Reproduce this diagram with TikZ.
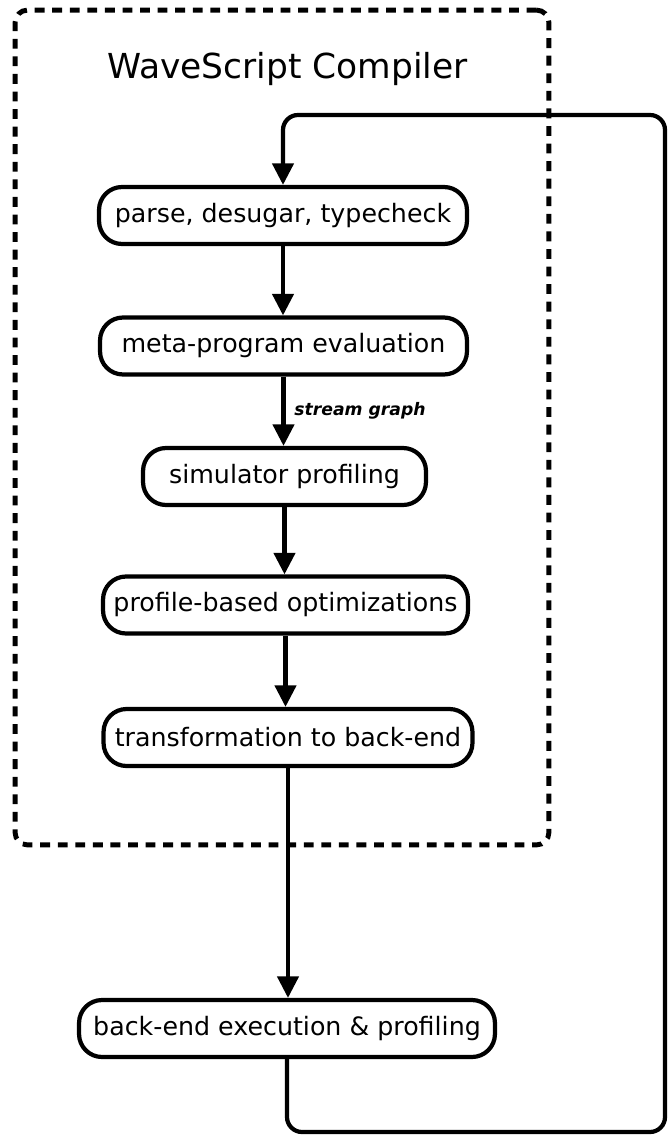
\documentclass[tikz,border=0pt]{standalone}
\usepackage{fontspec}
\setmainfont{DejaVu Sans}
\usetikzlibrary{
    arrows.meta,
    positioning
}
\tikzset{
    stage/.style={
        rectangle,
        rounded corners=0.46cm,
        draw=black,
        line width=2.4pt,
        fill=white,
        minimum height=1.14cm,
        inner xsep=0pt,
        text centered,
        font=\fontsize{14.4}{17}\selectfont
    },
    compilerBox/.style={
        rectangle,
        rounded corners=0.25cm,
        draw=black,
        line width=2.8pt,
        dash pattern=on 5.6pt off 4.4pt,
        minimum width=10.68cm,
        minimum height=16.7cm
    },
    flowArrow/.style={
        draw=black,
        line width=2.4pt,
        -{Triangle[length=0.43cm, width=0.42cm]}
    },
    loopArrow/.style={
        flowArrow,
        rounded corners=0.3cm
    },
    edgeLabel/.style={
        font=\fontsize{9.8}{11}\selectfont\bfseries\itshape,
        inner sep=2pt
    }
}

\begin{document}
\begin{tikzpicture}[x=0.02cm, y=-0.02cm]
    \useasboundingbox (0,0) rectangle (668,1135);

    % Compiler container
    \node[compilerBox] (compiler) at (282,427.5) {};
    \node[anchor=base west, font=\fontsize{19.6}{23}\selectfont] (title) at (101,79) {WaveScript Compiler};

    % Compiler stages
    \node[stage, minimum width=7.36cm] (parse) at (283,215.5) {parse, desugar, typecheck};
    \node[stage, minimum width=7.34cm] (meta) at (283.5,346) {meta-program evaluation};
    \node[stage, minimum width=5.66cm] (sim) at (284.5,476.5) {simulator profiling};
    \node[stage, minimum width=7.30cm] (prof) at (285.5,605) {profile-based optimizations};
    \node[stage, minimum width=7.38cm] (trans) at (288,737.5) {transformation to back-end};

    % Back-end (outside)
    \node[stage, minimum width=8.32cm] (exec) at (287,1028.5) {back-end execution \& profiling};

    % Loop corners
    \coordinate (loopSE) at (665,1132);
    \coordinate (loopNE) at (665,115);

    % Connections
    \draw[flowArrow] (parse.south) -- (parse.south |- meta.north);
    \draw[flowArrow] (meta.south) -- (meta.south |- sim.north)
        node[edgeLabel, midway, right=3pt] {stream graph};
    \draw[flowArrow] (sim.south) -- (sim.south |- prof.north);
    \draw[flowArrow] (prof.south) -- (prof.south |- trans.north);
    \draw[flowArrow] (trans.south) -- (trans.south |- exec.north);

    % Feedback loop
    \draw[loopArrow] (exec.south) |- (loopSE) -- (loopNE) -| (parse.north);
\end{tikzpicture}
\end{document}
